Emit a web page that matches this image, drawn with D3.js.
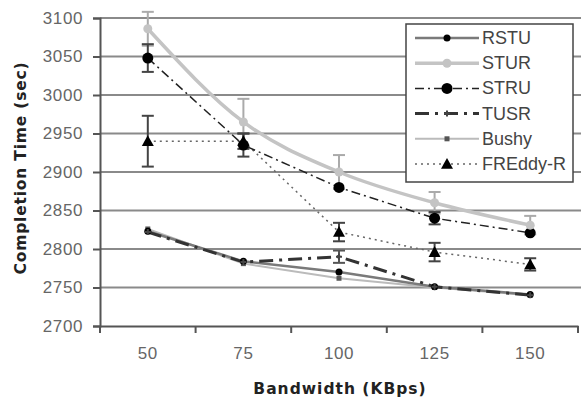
<!DOCTYPE html>
<html><head><meta charset="utf-8">
<script src="https://cdn.jsdelivr.net/npm/d3@7"></script>
<style>body{margin:0;background:#fff}svg{display:block}</style>
</head><body><svg id="c" width="581" height="401"></svg>
<script>
const categories = [50, 75, 100, 125, 150];
const yTicks = [2700, 2750, 2800, 2850, 2900, 2950, 3000, 3050, 3100];
const seriesNames = ["RSTU", "STUR", "STRU", "TUSR", "Bushy", "FREddy-R"];
const rstu = [2823, 2784, 2770, 2751, 2741];
const stur = [3086, 2965, 2900, 2860, 2831];
const stru = [3048, 2935, 2880, 2840, 2821];
const tusr = [2822, 2783, 2790, 2751, 2740];
const bushy = [2826, 2781, 2762, 2750, 2740];
const freddy = [2940, 2940, 2822, 2796, 2780];
const sturErr = [22, 30, 22, 14, 12];
const struErr = [18, 15, 0, 8, 0];
const freddyErr = [33, 10, 12, 12, 8];
const tusrErr = [0, 0, 8, 0, 0];

const svg = d3.select("#c");
const L = 100, R = 578, T = 18, B = 326;
const x = d3.scaleBand().domain(categories).range([L, R]);
const cx = d => x(d) + x.bandwidth() / 2;
const y = d3.scaleLinear().domain([2700, 3100]).range([B, T]);

// gridlines
svg.append("g").selectAll("line").data(yTicks.slice(1)).join("line")
  .attr("x1", L).attr("x2", 581).attr("y1", d => y(d)).attr("y2", d => y(d))
  .attr("stroke", "#8a8a8a").attr("stroke-width", 2);

// y axis
const ya = svg.append("g").attr("transform", `translate(${L},0)`)
  .call(d3.axisLeft(y).tickValues(yTicks).tickSize(7).tickPadding(10).tickFormat(d3.format("d")));
ya.select(".domain").attr("stroke", "#555").attr("stroke-width", 2);
ya.selectAll(".tick line").attr("stroke", "#555").attr("stroke-width", 2);
ya.selectAll("text").attr("font-family", "Liberation Sans, Arial, sans-serif").attr("font-size", 17)
  .attr("letter-spacing", 0.6).attr("fill", "#666");

// x axis
const xa = svg.append("g").attr("transform", `translate(0,${B})`)
  .call(d3.axisBottom(x).tickSize(0).tickPadding(21));
xa.select(".domain").attr("stroke", "#555").attr("stroke-width", 2);
xa.selectAll("text").attr("font-family", "Liberation Sans, Arial, sans-serif").attr("font-size", 17)
  .attr("letter-spacing", 0.6).attr("fill", "#666");
const bounds = categories.map(c => x(c)).concat([R]);
xa.selectAll(".bt").data(bounds).join("line").attr("class", "bt")
  .attr("x1", d => d).attr("x2", d => d).attr("y1", 0).attr("y2", 7)
  .attr("stroke", "#555").attr("stroke-width", 2);

// axis titles
svg.append("text").attr("x", 340).attr("y", 394).attr("text-anchor", "middle")
  .attr("font-family", "DejaVu Sans, sans-serif").attr("font-weight", "bold").attr("font-size", 15.5)
  .attr("letter-spacing", 1).attr("fill", "#222").text("Bandwidth (KBps)");
svg.append("text").attr("transform", "translate(26,168) rotate(-90)").attr("text-anchor", "middle")
  .attr("font-family", "DejaVu Sans, sans-serif").attr("font-weight", "bold").attr("font-size", 15.5)
  .attr("letter-spacing", 0.8).attr("fill", "#222").text("Completion Time (sec)");

const styles = {
  "RSTU": {data: rstu, stroke: "#7a7a7a", w: 2.5, dash: null, marker: "circle", mfill: "#000", ms: 3.5},
  "STUR": {data: stur, stroke: "#c4c4c4", w: 3.5, dash: null, marker: "circle", mfill: "#c4c4c4", ms: 4.5},
  "STRU": {data: stru, stroke: "#222", w: 1.5, dash: "9,4,2,4", marker: "circle", mfill: "#000", ms: 5.5},
  "TUSR": {data: tusr, stroke: "#333", w: 3, dash: "14,6,3,6", marker: "star", mfill: "#444", ms: 3},
  "Bushy": {data: bushy, stroke: "#bbbbbb", w: 2, dash: null, marker: "square", mfill: "#555", ms: 2.5},
  "FREddy-R": {data: freddy, stroke: "#666", w: 1.5, dash: "2,4", marker: "triangle", mfill: "#000", ms: 6}
};

function drawMarker(g, kind, px, py, s, fill) {
  if (kind === "circle") g.append("circle").attr("cx", px).attr("cy", py).attr("r", s).attr("fill", fill);
  else if (kind === "square") g.append("rect").attr("x", px - s).attr("y", py - s).attr("width", 2 * s).attr("height", 2 * s).attr("fill", fill);
  else if (kind === "triangle") g.append("path").attr("d", `M${px},${py - s}L${px + s},${py + s * 0.8}L${px - s},${py + s * 0.8}Z`).attr("fill", fill);
  else if (kind === "star") g.append("path").attr("d", `M${px - s},${py}L${px + s},${py}M${px},${py - s}L${px},${py + s}`).attr("stroke", fill).attr("stroke-width", 2);
}

// error bars
function errBars(vals, errs, color) {
  const g = svg.append("g");
  categories.forEach((c, i) => {
    if (!errs[i]) return;
    const px = cx(c);
    g.append("line").attr("x1", px).attr("x2", px).attr("y1", y(vals[i] + errs[i])).attr("y2", y(vals[i] - errs[i])).attr("stroke", color).attr("stroke-width", 2);
    [vals[i] + errs[i], vals[i] - errs[i]].forEach(v => g.append("line").attr("x1", px - 6).attr("x2", px + 6).attr("y1", y(v)).attr("y2", y(v)).attr("stroke", color).attr("stroke-width", 2));
  });
}

const line = d3.line().x((d, i) => cx(categories[i])).y(d => y(d));
const smooth = d3.line().x((d, i) => cx(categories[i])).y(d => y(d)).curve(d3.curveMonotoneX);
const order = ["Bushy", "RSTU", "TUSR", "FREddy-R", "STRU", "STUR"];
errBars(stur, sturErr, "#aaa");
order.forEach(n => {
  const s = styles[n];
  svg.append("path").datum(s.data).attr("d", n === "STUR" ? smooth : line).attr("fill", "none")
    .attr("stroke", s.stroke).attr("stroke-width", s.w).attr("stroke-dasharray", s.dash);
});
errBars(stru, struErr, "#444");
errBars(freddy, freddyErr, "#444");
errBars(tusr, tusrErr, "#555");
order.forEach(n => {
  const s = styles[n];
  const g = svg.append("g");
  s.data.forEach((v, i) => drawMarker(g, s.marker, cx(categories[i]), y(v), s.ms, s.mfill));
});

// legend
const lg = svg.append("g");
lg.append("rect").attr("x", 406).attr("y", 24).attr("width", 167).attr("height", 158)
  .attr("fill", "#fff").attr("stroke", "#444").attr("stroke-width", 1.5);
seriesNames.forEach((n, i) => {
  const s = styles[n];
  const ly = 38 + i * 25.2;
  lg.append("line").attr("x1", 415).attr("x2", 479).attr("y1", ly).attr("y2", ly)
    .attr("stroke", s.stroke).attr("stroke-width", s.w).attr("stroke-dasharray", s.dash);
  drawMarker(lg, s.marker, 447, ly, s.ms, s.mfill);
  lg.append("text").attr("x", 482).attr("y", ly + 6).attr("font-family", "Liberation Sans, Arial, sans-serif")
    .attr("font-size", 18).attr("fill", "#444").text(n);
});
</script></body></html>
